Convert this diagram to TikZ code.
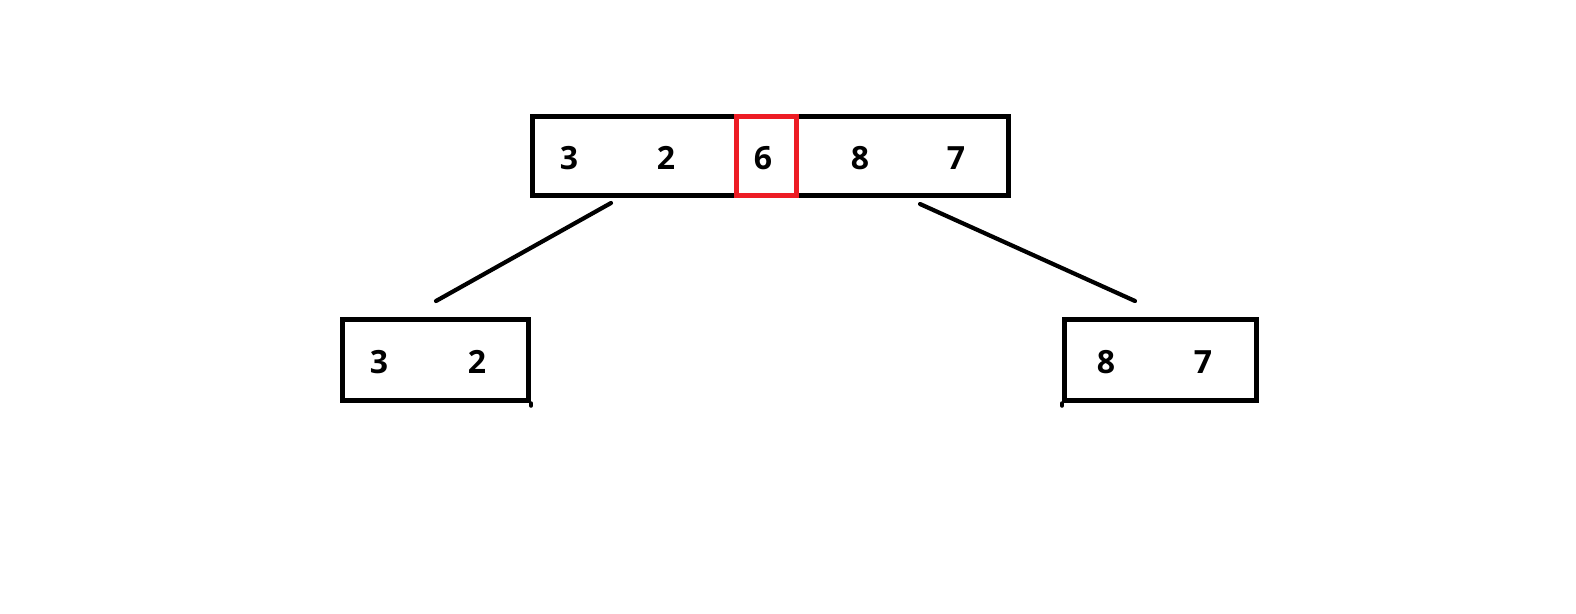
\documentclass[tikz,border=0pt]{standalone}
\usepackage{fontspec}
\setmainfont{Open Sans}
\begin{document}
\begin{tikzpicture}[x=1pt,y=-1pt,
  box/.style={draw=black,line width=5pt,minimum height=79pt,inner sep=0pt,anchor=north west},
  redbox/.style={draw={rgb,255:red,237;green,28;blue,36},line width=5pt,minimum height=79pt,inner sep=0pt,anchor=north west},
  num/.style={font=\fontsize{32}{32}\selectfont\bfseries,inner sep=0pt},
  link/.style={line width=4.2pt,line cap=round}]
\useasboundingbox (0,0) rectangle (1576,613);
\fill[white] (0,0) rectangle (1576,613);
% top array
\node[box,minimum width=476pt] (top) at (530,114) {};
\node[redbox,minimum width=60pt] (mid) at (734,114) {};
\node[num] (t3) at (569,158) {3};
\node[num] (t2) at (666,158) {2};
\node[num] (t6) at (763,158) {6};
\node[num] (t8) at (860,158) {8};
\node[num] (t7) at (956,158) {7};
% left child
\node[box,minimum width=186pt,minimum height=81pt] (left) at (340,317) {};
\node[num] (l3) at (379,362) {3};
\node[num] (l2) at (477,362) {2};
% right child
\node[box,minimum width=192pt,minimum height=81pt] (right) at (1062,317) {};
\node[num] (r8) at (1106,362) {8};
\node[num] (r7) at (1203,362) {7};
% links
\coordinate (la) at (611,203);
\coordinate (lb) at (436,301);
\coordinate (ra) at (920,204);
\coordinate (rb) at (1135,301);
\draw[link] (la) -- (lb);
\draw[link] (ra) -- (rb);
\draw[line width=3.5pt,line cap=round] (left.south east) -- ++(0,3);
\draw[line width=3.5pt,line cap=round] (right.south west) -- ++(0,3);
\end{tikzpicture}
\end{document}
